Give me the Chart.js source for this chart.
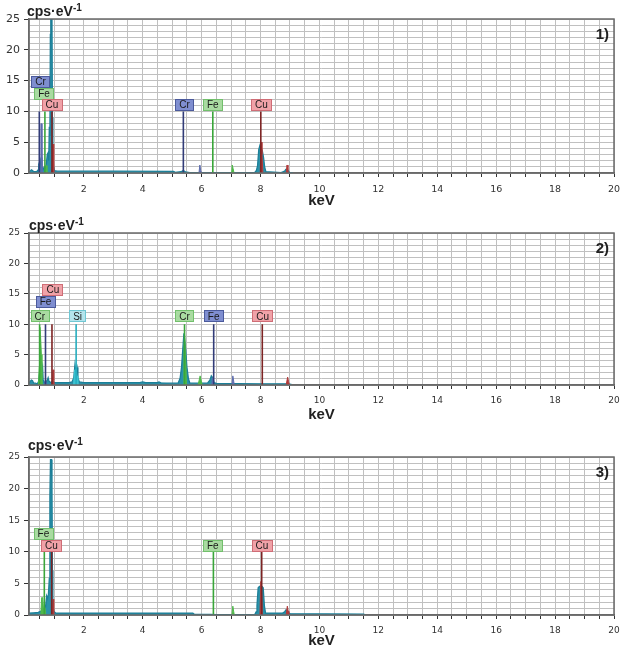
<!DOCTYPE html>
<html>
<head>
<meta charset="utf-8">
<title>EDS spectra</title>
<script src="https://cdn.jsdelivr.net/npm/chart.js@4.4.0/dist/chart.umd.min.js"></script>
<style>
  html, body { margin: 0; padding: 0; background: #fff; }
  #page { position: relative; width: 628px; height: 650px; overflow: hidden; }
  .panel { position: absolute; left: 0; width: 628px; }
  .ttl { position: absolute; font: bold 14px 'Liberation Sans', Arial, sans-serif; line-height: 16px; color: #222; white-space: nowrap; }
  .ttl sup { font-size: 10px; vertical-align: baseline; position: relative; top: -5px; }
</style>
</head>
<body>
<div id="page">
  <div class="panel" style="top:0;height:210px"><canvas id="spec1"></canvas></div>
  <div class="panel" style="top:210px;height:214px"><canvas id="spec2"></canvas></div>
  <div class="panel" style="top:424px;height:226px"><canvas id="spec3"></canvas></div>
  <div class="ttl" style="left:27px;top:3px">cps·eV<sup>-1</sup></div>
  <div class="ttl" style="left:29px;top:217px">cps·eV<sup>-1</sup></div>
  <div class="ttl" style="left:28px;top:437px">cps·eV<sup>-1</sup></div>
</div>
<script>
// axis labels
const xTickLabels = [2, 4, 6, 8, 10, 12, 14, 16, 18, 20];
const yTickLabels = [0, 5, 10, 15, 20, 25];

// ---- spectrum 1 : [keV, cps/eV]
const spectrum1 = [[0.14,0.1],[0.18,0.3],[0.22,0.5],[0.26,0.4],[0.3,0.2],[0.4,0.2],[0.45,0.5],[0.47,1.2],[0.5,0.8],[0.53,1.5],
  [0.55,2.5],[0.58,1],[0.62,0.6],[0.66,1],[0.7,0.8],[0.73,1.5],[0.76,3],[0.79,3.3],[0.81,2],[0.83,7.5],[0.85,6],[0.865,22.5],
  [0.88,25],[0.92,25],[0.935,9],[0.95,4.5],[0.97,1.2],[1.0,0.4],[1.1,0.3],[3.0,0.3],[5.05,0.25],[5.1,0.1],[5.3,0.2],[5.38,0.4],
  [5.45,0.2],[5.6,0.05],[7.8,0.05],[7.86,0.4],[7.9,1.2],[7.94,3.8],[7.98,4.5],[8.02,4],[8.06,3.6],[8.1,2.6],[8.14,1],[8.18,0.2],
  [8.7,0.05],[8.82,0.3],[8.86,0.6],[8.9,0.6],[8.94,0.4],[8.98,0.1],[9.1,0.02]];
const crPeaks1 = [[0.53,0],[0.545,8],[0.565,8],[0.58,0],[1,null],[5.91,0],[5.94,1.3],[5.97,0.4],[6.0,0]];
const fePeaks1 = [[0.69,0],[0.72,1.2],[0.75,0],[1,null],[7.02,0],[7.04,1.3],[7.07,0.7],[7.1,0]];
const cuPeaks1 = [[0.92,0],[0.94,2.4],[0.96,4.7],[0.98,0],[2,null],[7.99,0],[8.02,5],[8.05,3],[8.08,0],[8.5,null],
  [8.87,0],[8.9,1.3],[8.93,0.5],[8.95,0]];
const lines1 = [['Cr',0.49,10],['Fe',0.68,10],['Cu',0.92,10],['Cr',5.38,10],['Fe',6.38,10],['Cu',8.01,10]];
const tags1 = [['Cr',0.53,14.85],['Fe',0.65,12.9],['Cu',0.92,11],['Cr',5.42,11],['Fe',6.38,11],['Cu',8.03,11]];

// ---- spectrum 2
const spectrum2 = [[0.14,0.2],[0.18,0.6],[0.22,0.8],[0.26,0.7],[0.3,0.3],[0.36,0.3],[0.42,0.2],[0.46,0.5],[0.5,2],[0.54,2],
  [0.58,2.5],[0.6,3],[0.62,0.8],[0.66,0.4],[0.72,0.5],[0.76,0.8],[0.79,1.2],[0.82,0.6],[0.88,0.4],[0.94,0.6],[1.0,0.4],
  [1.5,0.4],[1.6,0.5],[1.66,1.2],[1.7,3.3],[1.73,2.2],[1.77,2.9],[1.8,1.2],[1.85,0.5],[2.0,0.4],[3.9,0.4],[4.0,0.5],[4.1,0.4],
  [4.5,0.4],[4.55,0.5],[4.62,0.35],[5.0,0.3],[5.2,0.3],[5.27,1.1],[5.32,3],[5.36,5.8],[5.4,8.5],[5.46,5.8],[5.5,3],[5.55,1.1],
  [5.6,0.3],[6.2,0.3],[6.28,0.8],[6.33,1.5],[6.38,1.2],[6.42,0.4],[6.5,0.25],[8.0,0.2],[8.9,0.2],[9.05,0.1]];
const crPeaks2 = [[0.46,0],[0.49,3],[0.51,9.5],[0.53,8.3],[0.56,5],[0.58,1],[0.6,0],[1,null],[5.37,0],[5.4,5],[5.42,8.5],
  [5.45,5.5],[5.49,0],[5.7,null],[5.88,0],[5.95,1.5],[6.02,0]];
const fePeaks2 = [[0.67,0],[0.7,1],[0.73,0],[1,null],[6.34,0],[6.37,1.2],[6.4,0],[6.8,null],[7.03,0],[7.06,1.5],[7.09,0.6],[7.11,0]];
const cuPeaks2 = [[0.93,0],[0.96,2.5],[0.98,0.8],[1.0,0],[2,null],[8.87,0],[8.92,1.3],[8.95,0.6],[8.98,0]];
const siPeaks2 = [[1.65,0],[1.69,2.5],[1.72,1.5],[1.74,2.6],[1.77,1.5],[1.8,0]];
const lines2 = [['Cr',0.5,10],['Fe',0.7,10],['Cu',0.92,10],['Si',1.74,10],['Cr',5.42,10],['Fe',6.41,10],['Cu',8.06,10]];
const tags2 = [['Cu',0.95,15.7],['Fe',0.7,13.7],['Cr',0.51,11.27],['Si',1.79,11.27],['Cr',5.42,11.27],['Fe',6.41,11.27],['Cu',8.07,11.27]];

// ---- spectrum 3
const spectrum3 = [[0.14,0.3],[0.3,0.35],[0.45,0.4],[0.5,0.5],[0.55,0.6],[0.6,1],[0.66,0.8],[0.7,1.2],[0.74,3],[0.77,2.6],
  [0.8,3.3],[0.83,5.8],[0.85,18.9],[0.87,24.6],[0.9,24.6],[0.92,20],[0.935,7],[0.95,2],[0.98,0.6],[1.05,0.3],[5.7,0.3],[5.75,0.1],
  [6.3,0.1],[6.5,0.05],[7.8,0.05],[7.85,0.5],[7.88,1.5],[7.92,4.3],[7.96,4.5],[8.0,4.6],[8.05,4.5],[8.09,4.3],[8.13,1.5],
  [8.17,0.3],[8.55,0.3],[8.75,0.3],[8.82,0.5],[8.86,0.8],[8.9,0.8],[8.95,0.4],[9.0,0.2],[11.5,0.15],[11.55,0.02]];
const fePeaks3 = [[0.54,0],[0.57,2.75],[0.6,2.75],[0.63,1],[0.68,1.2],[0.71,0],[1,null],[7.03,0],[7.06,1.4],[7.09,0.5],[7.11,0]];
const cuPeaks3 = [[0.93,0],[0.96,2.5],[0.98,0],[2,null],[7.98,0],[8.01,5.3],[8.04,3],[8.06,0],[8.5,null],
  [8.87,0],[8.91,1.4],[8.94,0.6],[8.96,0]];
const lines3 = [['Fe',0.66,10],['Cu',0.91,10],['Fe',6.4,10],['Cu',8.04,10]];
const tags3 = [['Fe',0.63,12.8],['Cu',0.9,10.9],['Fe',6.38,10.9],['Cu',8.05,10.9]];

// ---- styles
const palette = {
  blue:  { line: '#323c78', fill: '#5d6cae', box: '#7f8ed0', edge: '#4b5a9c' },
  green: { line: '#3aa63a', fill: '#4fb84a', box: '#a9dba1', edge: '#72c06c' },
  red:   { line: '#7d2424', fill: '#b03a3a', box: '#f0a2a8', edge: '#cf6d76' },
  cyan:  { line: '#26aebf', fill: '#3cc3d2', box: '#b4e4ec', edge: '#6fc7d3' }
};
const teal = { line: '#1c7f98', fill: '#2a92aa' };
const gridColor = '#c0c0c0';
const frameColor = '#6a6a6a';

const toXY = arr => arr.map(p => ({ x: p[0], y: p[1] }));

const decor = {
  id: 'edsDecor',
  afterDatasetsDraw(chart, args, opts) {
    const { ctx, chartArea: a, scales: { x, y } } = chart;
    ctx.save();
    ctx.strokeStyle = frameColor;
    ctx.lineWidth = 1.5;
    ctx.strokeRect(a.left, a.top, a.right - a.left, a.bottom - a.top);

    ctx.font = "10px 'Liberation Sans', Arial, sans-serif";
    ctx.textAlign = 'center';
    ctx.textBaseline = 'middle';
    opts.tags.forEach(([el, e, v]) => {
      const c = palette[opts.hues[el]];
      const px = x.getPixelForValue(e);
      const py = y.getPixelForValue(v);
      const w = ctx.measureText(el).width + 8;
      const h = 12;
      ctx.fillStyle = c.box;
      ctx.fillRect(Math.round(px - w / 2), Math.round(py - h / 2), Math.round(w), h);
      ctx.strokeStyle = c.edge;
      ctx.lineWidth = 1;
      ctx.strokeRect(Math.round(px - w / 2) + 0.5, Math.round(py - h / 2) + 0.5, Math.round(w) - 1, h - 1);
      ctx.fillStyle = '#1a1a1a';
      ctx.fillText(el, px, py + 0.5);
    });

    ctx.font = "bold 15px 'Liberation Sans', Arial, sans-serif";
    ctx.textAlign = 'right';
    ctx.fillStyle = '#222';
    ctx.fillText(opts.tag, a.right - 5, a.top + 16);
    ctx.restore();
  }
};

function makePanel(id, p) {
  const datasets = [];
  const elements = [...new Set(p.lines.map(l => l[0]))];
  elements.forEach(el => {
    const pts = [];
    p.lines.filter(l => l[0] === el).forEach(([, e, h]) => {
      pts.push({ x: e, y: 0 }, { x: e, y: h }, { x: e, y: null });
    });
    datasets.push({
      type: 'line', data: pts, order: 1, borderColor: palette[p.hues[el]].line,
      borderWidth: 1.6, pointRadius: 0, spanGaps: false, fill: false
    });
  });
  p.peaks.forEach(([el, arr]) => {
    const c = palette[p.hues[el]];
    datasets.push({
      type: 'line', data: toXY(arr), order: 2, borderColor: c.fill, backgroundColor: c.fill,
      borderWidth: 1, pointRadius: 0, spanGaps: false, fill: 'origin'
    });
  });
  datasets.push({
    type: 'line', data: toXY(p.spectrum), order: 3, borderColor: teal.line, backgroundColor: teal.fill,
    borderWidth: 1.3, pointRadius: 0, fill: 'origin'
  });

  new Chart(document.getElementById(id), {
    type: 'line',
    data: { datasets },
    options: {
      responsive: true,
      maintainAspectRatio: false,
      animation: false,
      events: [],
      layout: { padding: { top: p.padTop, right: 14, left: 0, bottom: 0 } },
      plugins: {
        legend: { display: false },
        tooltip: { enabled: false },
        edsDecor: { tags: p.tags, hues: p.hues, tag: p.tag }
      },
      scales: {
        x: {
          type: 'linear', min: 0.14, max: 20,
          afterFit: s => { s.height = p.xHeight; },
          ticks: {
            stepSize: 0.5, includeBounds: false, autoSkip: false, maxRotation: 0, padding: p.xPad,
            font: { family: 'DejaVu Sans', size: p.xFont }, color: '#333',
            callback: v => xTickLabels.includes(v) ? String(v) : ''
          },
          grid: { color: gridColor, lineWidth: 1, tickLength: 4, tickColor: '#333' },
          border: { color: frameColor, width: 1.5 },
          title: {
            display: true, text: 'keV', color: '#222', padding: 0,
            font: { family: 'Liberation Sans', size: 15, weight: 'bold' }
          }
        },
        y: {
          min: 0, max: 25,
          afterFit: s => { s.width = 29; },
          ticks: {
            stepSize: 1, autoSkip: false, padding: 4,
            font: { family: 'DejaVu Sans', size: p.yFont }, color: '#333',
            callback: v => yTickLabels.includes(v) ? String(v) : ''
          },
          grid: {
            color: gridColor, lineWidth: 1, tickLength: 5,
            tickColor: c => (c.tick && yTickLabels.includes(c.tick.value)) ? '#333' : 'rgba(0,0,0,0)'
          },
          border: { color: frameColor, width: 1.5 }
        }
      }
    },
    plugins: [decor]
  });
}

makePanel('spec1', {
  spectrum: spectrum1, lines: lines1, tags: tags1, tag: '1)',
  peaks: [['Cr', crPeaks1], ['Fe', fePeaks1], ['Cu', cuPeaks1]],
  hues: { Cr: 'blue', Fe: 'green', Cu: 'red' },
  padTop: 19, xHeight: 37, xPad: 7, xFont: 9.5, yFont: 11
});
makePanel('spec2', {
  spectrum: spectrum2, lines: lines2, tags: tags2, tag: '2)',
  peaks: [['Cr', crPeaks2], ['Fe', fePeaks2], ['Cu', cuPeaks2], ['Si', siPeaks2]],
  hues: { Cr: 'green', Fe: 'blue', Cu: 'red', Si: 'cyan' },
  padTop: 23, xHeight: 39, xPad: 6, xFont: 9, yFont: 9
});
makePanel('spec3', {
  spectrum: spectrum3, lines: lines3, tags: tags3, tag: '3)',
  peaks: [['Fe', fePeaks3], ['Cu', cuPeaks3]],
  hues: { Fe: 'green', Cu: 'red' },
  padTop: 33, xHeight: 35, xPad: 6, xFont: 9, yFont: 9
});
</script>
</body>
</html>
